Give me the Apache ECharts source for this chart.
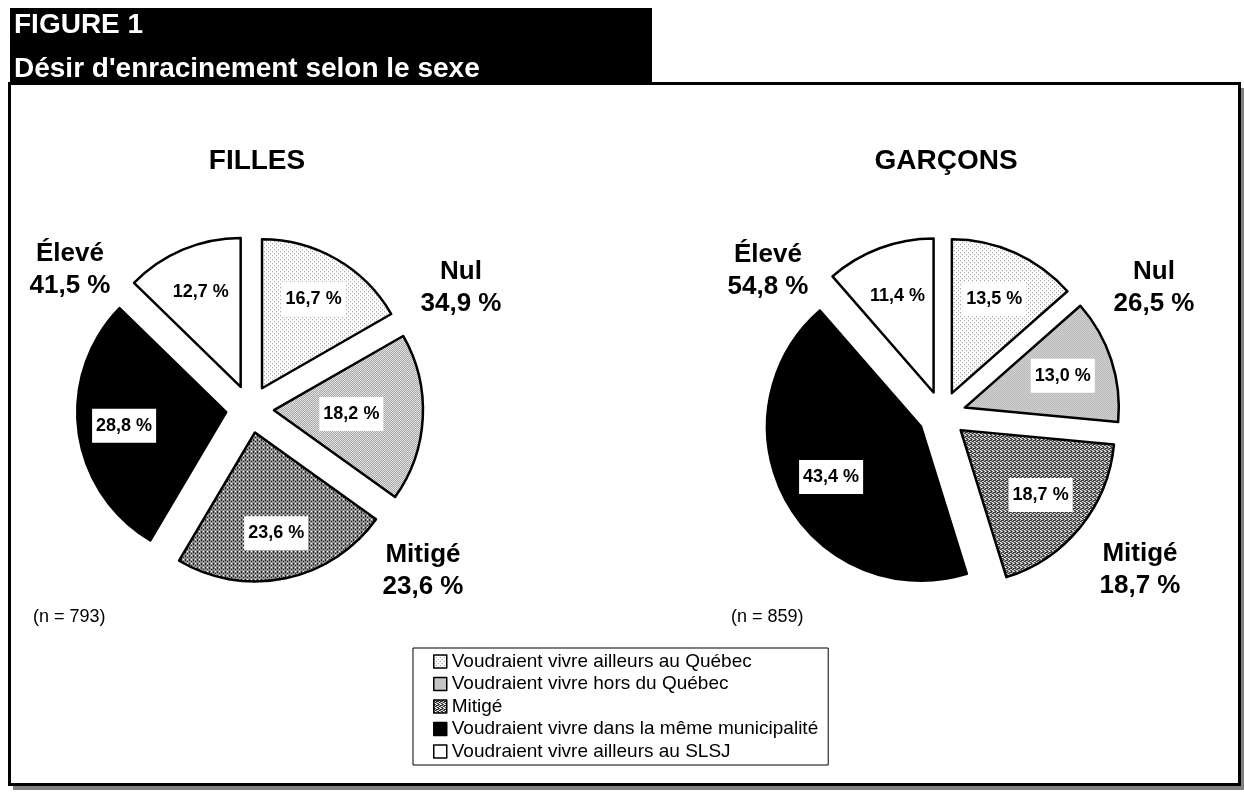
<!DOCTYPE html>
<html>
<head>
<meta charset="utf-8">
<script src="https://cdn.jsdelivr.net/npm/echarts@6/dist/echarts.min.js"></script>
<style>
  html, body { margin: 0; padding: 0; background: #ffffff; }
  #main { width: 1244px; height: 792px; }
</style>
</head>
<body>
<div id="main"></div>
<script>
var categories = [
    'Voudraient vivre ailleurs au Québec',
    'Voudraient vivre hors du Québec',
    'Mitigé',
    'Voudraient vivre dans la même municipalité',
    'Voudraient vivre ailleurs au SLSJ'
];
var filles = [16.7, 18.2, 23.6, 28.8, 12.7];
var garcons = [13.5, 13.0, 18.7, 43.4, 11.4];
var groupNames = ['Nul', 'Mitigé', 'Élevé'];
var pieTitles = ['FILLES', 'GARÇONS'];
var counts = [793, 859];

var FONT = '"Liberation Sans", Arial, sans-serif';

// small tiles for the dotted fills
function makeTile(w, h, dots, dotColor) {
    var c = document.createElement('canvas');
    c.width = w;
    c.height = h;
    var ctx = c.getContext('2d');
    ctx.fillStyle = '#ffffff';
    ctx.fillRect(0, 0, w, h);
    ctx.fillStyle = dotColor;
    dots.forEach(function (d) { ctx.fillRect(d[0], d[1], 1, 1); });
    return { image: c, repeat: 'repeat' };
}
var fills = [
    makeTile(4, 4, [[0, 0], [2, 2]], '#8a8a8a'),
    makeTile(2, 2, [[0, 0], [1, 1]], '#8c8c8c'),
    makeTile(4, 4, [[0, 0], [1, 0], [2, 1], [3, 1], [1, 2], [2, 2], [3, 3], [0, 3], [0, 1]], '#202020'),
    '#000000',
    '#ffffff'
];

function pct(v) {
    return v.toFixed(1).replace('.', ',') + ' %';
}

var labelStyle = {
    show: true,
    position: 'inside',
    rotate: 0,
    color: '#000',
    fontFamily: FONT,
    fontWeight: 'bold',
    fontSize: 18,
    backgroundColor: '#ffffff',
    padding: [8, 4],
    formatter: function (p) { return pct(p.value); }
};

function mainSeries(values, center, radius, innerIdx) {
    return {
        type: 'pie',
        center: center,
        radius: radius,
        startAngle: 90,
        clockwise: true,
        selectedMode: 'multiple',
        selectedOffset: 24,
        avoidLabelOverlap: false,
        animation: false,
        label: { show: false },
        labelLine: { show: false },
        emphasis: { scale: false },
        select: { itemStyle: { borderColor: '#000', borderWidth: 2.5 } },
        data: values.map(function (v, i) {
            var item = {
                name: categories[i],
                value: v,
                selected: true,
                itemStyle: { color: fills[i], borderColor: '#000', borderWidth: 2.5 }
            };
            if (innerIdx.indexOf(i) >= 0) item.label = labelStyle;
            return item;
        })
    };
}

function labelSeries(values, center, radius, skipIdx) {
    return {
        type: 'pie',
        center: center,
        radius: radius,
        startAngle: 90,
        clockwise: true,
        silent: true,
        selectedMode: 'multiple',
        selectedOffset: 24,
        avoidLabelOverlap: false,
        animation: false,
        label: labelStyle,
        labelLine: { show: false },
        itemStyle: { color: 'rgba(0,0,0,0)', borderWidth: 0 },
        select: { itemStyle: { color: 'rgba(0,0,0,0)', borderWidth: 0 } },
        data: values.map(function (v, i) {
            var item = { name: categories[i], value: v, selected: true };
            if (skipIdx.indexOf(i) >= 0) item.label = { show: false };
            return item;
        })
    };
}

function groupText(x, y, name, value) {
    return {
        type: 'text',
        x: x,
        y: y,
        z: 20,
        style: {
            text: name + '\n' + pct(value),
            fill: '#000',
            font: 'bold 26px ' + FONT,
            lineHeight: 32,
            align: 'center',
            verticalAlign: 'top'
        }
    };
}

function groups(v) {
    return [v[0] + v[1], v[2], v[3] + v[4]];
}
var gF = groups(filles);
var gG = groups(garcons);

var option = {
    backgroundColor: '#ffffff',
    animation: false,
    legend: {
        orient: 'vertical',
        left: 413,
        top: 648,
        padding: [4, 10, 4, 20],
        itemGap: 3.5,
        itemWidth: 13,
        itemHeight: 13,
        icon: 'rect',
        backgroundColor: '#ffffff',
        borderColor: '#000',
        borderWidth: 1,
        selectedMode: false,
        data: categories,
        itemStyle: { borderColor: '#000', borderWidth: 1.5 },
        textStyle: { fontFamily: FONT, fontSize: 19, color: '#000', lineHeight: 19 }
    },
    graphic: [{
        type: 'rect',
        z: -20,
        shape: { x: 13, y: 88, width: 1231, height: 702 },
        style: { fill: '#808080' }
    }, {
        type: 'rect',
        z: -10,
        shape: { x: 9.5, y: 83.5, width: 1230, height: 701 },
        style: { fill: '#ffffff', stroke: '#000', lineWidth: 3 }
    }, {
        type: 'rect',
        z: -5,
        shape: { x: 10, y: 8, width: 642, height: 77 },
        style: { fill: '#000000' }
    }, {
        type: 'text',
        x: 14,
        y: 11,
        z: 20,
        style: { text: 'FIGURE 1', fill: '#fff', font: 'bold 28px ' + FONT }
    }, {
        type: 'text',
        x: 14,
        y: 55,
        z: 20,
        style: { text: "Désir d'enracinement selon le sexe", fill: '#fff', font: 'bold 28px ' + FONT }
    }, {
        type: 'text',
        x: 257,
        y: 147,
        z: 20,
        style: { text: pieTitles[0], fill: '#000', font: 'bold 28px ' + FONT, align: 'center' }
    }, {
        type: 'text',
        x: 946,
        y: 147,
        z: 20,
        style: { text: pieTitles[1], fill: '#000', font: 'bold 28px ' + FONT, align: 'center' }
    },
        groupText(461, 256, groupNames[0], gF[0]),
        groupText(423, 539, groupNames[1], gF[1]),
        groupText(70, 238, groupNames[2], gF[2]),
        groupText(1154, 256, groupNames[0], gG[0]),
        groupText(1140, 538, groupNames[1], gG[1]),
        groupText(768, 239, groupNames[2], gG[2]),
    {
        type: 'text',
        x: 33,
        y: 608,
        z: 20,
        style: { text: '(n = ' + counts[0] + ')', fill: '#000', font: '18px ' + FONT }
    }, {
        type: 'text',
        x: 731,
        y: 608,
        z: 20,
        style: { text: '(n = ' + counts[1] + ')', fill: '#000', font: '18px ' + FONT }
    }],
    series: [
        mainSeries(filles, [250, 409], 149, [1]),
        labelSeries(filles, [250, 409], 200, [1]),
        mainSeries(garcons, [942, 415], 154, []),
        labelSeries(garcons, [942, 415], 200, [])
    ]
};

var chart = echarts.init(document.getElementById('main'));
chart.setOption(option);
</script>
</body>
</html>
